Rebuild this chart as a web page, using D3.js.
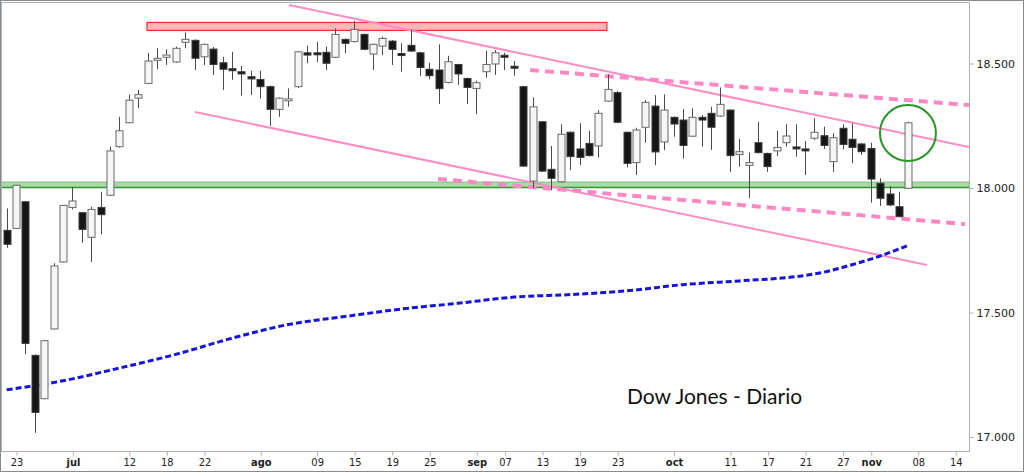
<!DOCTYPE html>
<html>
<head>
<meta charset="utf-8">
<script src="https://cdn.jsdelivr.net/npm/d3@7"></script>
<style>
  body { margin: 0; background: #fff; }
  svg { display: block; }
</style>
</head>
<body>
<svg id="chart" width="1024" height="472"></svg>
<script>
// ---- data ----
const firstDay = "2016-06-22";
const lastDay = "2016-11-18";
const holidays = ["2016-07-04", "2016-09-05"];

// one candle per trading day starting at firstDay
const open  = [17828,17836,17943,17326,17152,17432,17701,17920,17899,17800,17920,17969,18164,18260,18359,18418,18512,18523,18504,18583,
               18591,18525,18556,18501,18477,18465,18445,18434,18405,18314,18354,18405,18541,18541,18543,18523,18595,18586,18615,18536,
               18568,18588,18538,18571,18541,18475,18472,18422,18494,18438,18398,18465,18496,18531,18487,18405,18026,18264,18073,18023,
               18222,18155,18177,18167,18347,18381,18222,18100,18242,18327,18183,18282,18271,18206,18282,18298,18287,18311,18133,18089,
               18180,18137,18147,18180,18163,18155,18198,18208,18104,18238,18194,18175,18157,18017,17974,17923,17997];
const high  = [17916,18011,17946,17330,17388,17696,17930,18001,17900,17923,17983,18164,18284,18374,18392,18541,18559,18555,18566,18623,
               18595,18578,18564,18525,18545,18488,18469,18469,18410,18362,18398,18548,18570,18585,18566,18639,18598,18669,18618,18578,
               18606,18592,18579,18635,18545,18501,18575,18529,18497,18441,18429,18549,18552,18541,18508,18408,18362,18266,18167,18254,
               18225,18258,18228,18311,18455,18388,18225,18240,18351,18371,18374,18285,18315,18318,18291,18324,18402,18314,18195,18140,
               18264,18140,18228,18254,18254,18187,18278,18244,18218,18254,18258,18178,18180,18037,18006,17983,18264];
const low   = [17758,17836,17331,17015,17150,17430,17699,17912,17778,17701,17812,17969,18160,18258,18319,18415,18475,18492,18500,18559,
               18472,18492,18452,18392,18432,18369,18371,18357,18247,18284,18325,18400,18499,18503,18472,18520,18539,18583,18552,18472,
               18532,18492,18465,18545,18448,18434,18335,18418,18412,18335,18295,18441,18452,18472,18449,18083,17997,18062,17990,18020,
               18070,18090,18125,18121,18345,18258,18081,18050,18180,18090,18150,18204,18117,18204,18164,18151,18284,18063,18084,17957,
               18137,18063,18127,18164,18124,18050,18191,18155,18063,18153,18097,18131,17939,17926,17925,17880,17995];
const close = [17772,18009,17374,17097,17385,17685,17928,17946,17832,17912,17891,18147,18228,18351,18373,18508,18519,18532,18559,18595,
               18519,18575,18494,18475,18473,18456,18436,18405,18314,18359,18356,18545,18532,18535,18499,18615,18579,18635,18555,18575,
               18599,18555,18534,18548,18482,18449,18397,18505,18456,18402,18421,18494,18541,18528,18484,18086,18324,18066,18037,18214,
               18124,18121,18128,18298,18394,18262,18097,18231,18342,18143,18311,18255,18169,18282,18271,18242,18334,18128,18144,18100,
               18140,18084,18161,18207,18160,18148,18222,18169,18200,18173,18161,18144,18034,17957,17930,17883,18260];

// moving average (blue dotted), sampled by date
const maDates = ["2016-06-22","2016-06-30","2016-07-11","2016-07-19","2016-07-27","2016-08-04","2016-08-12","2016-08-22",
                 "2016-08-30","2016-09-08","2016-09-16","2016-09-26","2016-10-04","2016-10-12","2016-10-20","2016-10-25",
                 "2016-10-28","2016-11-02","2016-11-07"];
const maVals  = [17188,17224,17275,17330,17395,17450,17482,17512,17535,17560,17570,17585,17610,17625,17642,17660,17690,17725,17768];

// annotations: [dayIndex, value]
const upperSolid  = [[30.06, 18733], [102.46, 18163]];
const lowerSolid  = [[20.05, 18303], [98.0, 17689]];
const upperDashed = [[55.72, 18472], [102.46, 18331]];
const lowerDashed = [[45.92, 18034], [102.03, 17853]];
const supportBand = [18000, 18022];
const resistBand  = {from: 14.94, to: 63.9, lo: 18631, hi: 18663};
const circleAt    = [95.96, 18219];

const tickDates  = ["2016-06-23","2016-07-01","2016-07-12","2016-07-18","2016-07-22","2016-08-01","2016-08-09","2016-08-15",
                    "2016-08-19","2016-08-25","2016-09-01","2016-09-07","2016-09-13","2016-09-19","2016-09-23","2016-10-03",
                    "2016-10-11","2016-10-17","2016-10-21","2016-10-27","2016-11-01","2016-11-08","2016-11-14"];
const tickLabels = ["23","jul","12","18","22","ago","09","15","19","25","sep","07","13","19","23","oct",
                    "11","17","21","27","nov","08","14"];
const yTicks = [17000, 17500, 18000, 18500];
const title = "Dow Jones - Diario";

// ---- trading day index ----
const parse = d3.utcParse("%Y-%m-%d");
const fmt = d3.utcFormat("%Y-%m-%d");
const days = d3.utcDay.range(parse(firstDay), d3.utcDay.offset(parse(lastDay), 1))
    .filter(d => d.getUTCDay() % 6 !== 0 && !holidays.includes(fmt(d)));
const dayIndex = new Map(days.map((d, i) => [fmt(d), i]));

const candles = close.map((c, i) => ({i, o: open[i], h: high[i], l: low[i], c}));

// ---- layout ----
const plot = {left: 1, top: 2, right: 969, bottom: 451};
const svg = d3.select("#chart");

const x = d3.scaleLinear().domain([-0.607, 102.46]).range([plot.left, plot.right]);
const y = d3.scaleLinear().domain([16942, 18745]).range([plot.bottom, plot.top]);

svg.append("defs").append("clipPath").attr("id", "clip")
  .append("rect")
    .attr("x", plot.left).attr("y", plot.top)
    .attr("width", plot.right - plot.left).attr("height", plot.bottom - plot.top);

const g = svg.append("g").attr("clip-path", "url(#clip)");

// support band (green)
g.append("rect")
    .attr("x", plot.left).attr("width", plot.right - plot.left)
    .attr("y", y(supportBand[1])).attr("height", y(supportBand[0]) - y(supportBand[1]))
    .attr("fill", "#a9dba4").attr("stroke", "#7cc47a").attr("stroke-width", 1);
g.append("line")
    .attr("x1", plot.left).attr("x2", plot.right)
    .attr("y1", y(supportBand[0])).attr("y2", y(supportBand[0]))
    .attr("stroke", "#2e9a2e").attr("stroke-width", 1.5);

// resistance band (red)
g.append("rect")
    .attr("x", x(resistBand.from)).attr("width", x(resistBand.to) - x(resistBand.from))
    .attr("y", y(resistBand.hi)).attr("height", y(resistBand.lo) - y(resistBand.hi))
    .attr("fill", "#ffb6b6").attr("stroke", "#ff2a2a").attr("stroke-width", 1.2);

const line = d3.line().x(d => x(d[0])).y(d => y(d[1]));

// trend channel lines
[upperSolid, lowerSolid].forEach(seg => {
    g.append("path").attr("d", line(seg))
        .attr("fill", "none").attr("stroke", "#ff8cc6").attr("stroke-width", 2);
});
[upperDashed, lowerDashed].forEach(seg => {
    g.append("path").attr("d", line(seg))
        .attr("fill", "none").attr("stroke", "#ff88c4").attr("stroke-width", 4)
        .attr("stroke-dasharray", "9,6");
});

// moving average
const maPts = maDates.map((d, i) => [dayIndex.get(d), maVals[i]]);
g.append("path").attr("d", d3.line().curve(d3.curveMonotoneX).x(d => x(d[0])).y(d => y(d[1]))(maPts))
    .attr("fill", "none").attr("stroke", "#1515d8").attr("stroke-width", 3)
    .attr("stroke-dasharray", "6,3");

// candles
const bw = 7;
const cg = g.append("g").selectAll("g").data(candles).join("g");
cg.append("line")
    .attr("x1", d => Math.round(x(d.i)) + 0.5).attr("x2", d => Math.round(x(d.i)) + 0.5)
    .attr("y1", d => y(d.h)).attr("y2", d => y(d.l))
    .attr("stroke", "#4a4a4a").attr("stroke-width", 1);
cg.append("rect")
    .attr("x", d => Math.round(x(d.i)) - bw / 2 + 0.5)
    .attr("width", bw)
    .attr("y", d => y(Math.max(d.o, d.c)))
    .attr("height", d => Math.max(2, Math.abs(y(d.o) - y(d.c))))
    .attr("fill", d => d.c > d.o ? "#f6f6f6" : "#161616")
    .attr("stroke", d => d.c > d.o ? "#6a6a6a" : "#3a3a3a")
    .attr("stroke-width", 1);

// circle
g.append("circle")
    .attr("cx", x(circleAt[0])).attr("cy", y(circleAt[1])).attr("r", 28)
    .attr("fill", "none").attr("stroke", "#2a962a").attr("stroke-width", 2);

// title
svg.append("text")
    .attr("x", 627).attr("y", 404)
    .attr("font-family", "Lato, 'Open Sans', sans-serif")
    .attr("font-size", 21)
    .attr("fill", "#111")
    .text(title);

// plot frame
svg.append("rect")
    .attr("x", plot.left + 0.5).attr("y", plot.top + 0.5)
    .attr("width", plot.right - plot.left).attr("height", plot.bottom - plot.top)
    .attr("fill", "none").attr("stroke", "#aab2ba");

// x axis
const xAxis = d3.axisBottom(x)
    .tickValues(tickDates.map(d => dayIndex.get(d)))
    .tickFormat((d, i) => tickLabels[i])
    .tickSize(4).tickPadding(3);
const gx = svg.append("g").attr("transform", `translate(0.5,${plot.bottom + 0.5})`).call(xAxis);
gx.select(".domain").remove();
gx.selectAll(".tick line").attr("stroke", "#aab2ba");
gx.selectAll(".tick text")
    .attr("font-family", "'Liberation Sans Narrow', 'DejaVu Sans Condensed', sans-serif")
    .attr("font-size", 11).attr("fill", "#222")
    .attr("font-weight", (d, i) => /^\d/.test(tickLabels[i]) ? "normal" : "bold");

// y axis
const loc = d3.formatLocale({decimal: ",", thousands: ".", grouping: [3], currency: ["", ""]});
const yAxis = d3.axisRight(y).tickValues(yTicks).tickFormat(loc.format(",.0f")).tickSize(4).tickPadding(3);
const gy = svg.append("g").attr("transform", `translate(${plot.right + 0.5},0.5)`).call(yAxis);
gy.select(".domain").remove();
gy.selectAll(".tick line").attr("stroke", "#aab2ba");
gy.selectAll(".tick text")
    .attr("font-family", "'DejaVu Sans', Verdana, sans-serif")
    .attr("font-size", 11).attr("fill", "#222");

// outer frame
svg.append("rect")
    .attr("x", 0.5).attr("y", 0.5).attr("width", 1023).attr("height", 471)
    .attr("fill", "none").attr("stroke", "#8a8a8a");
</script>
</body>
</html>
